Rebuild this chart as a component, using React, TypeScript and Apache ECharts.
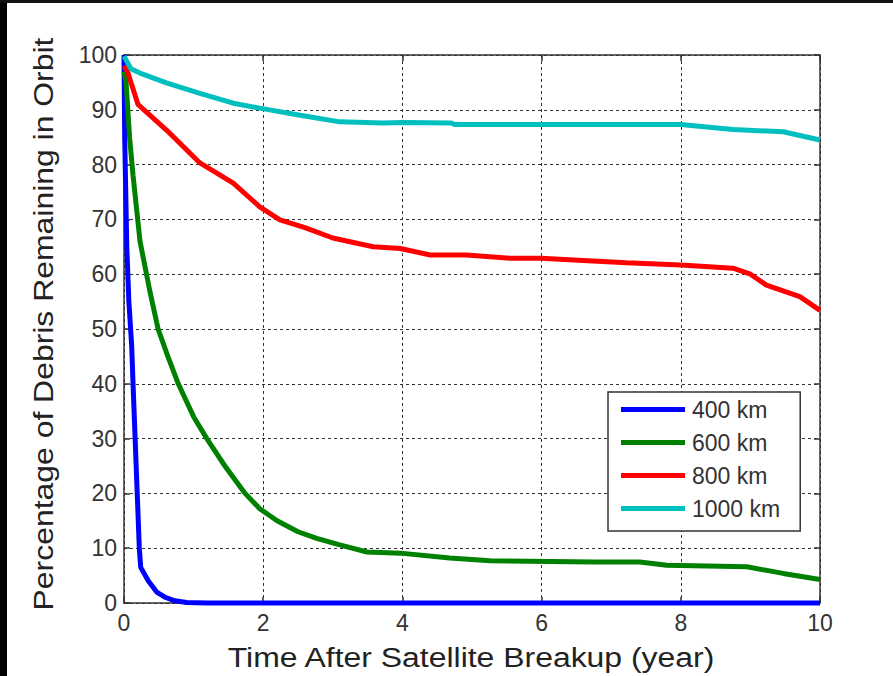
import React, { useEffect, useRef } from "react";
import * as echarts from "echarts";

const seriesNames = ["400 km", "600 km", "800 km", "1000 km"];
const seriesColors = ["#0000FF", "#008000", "#FF0000", "#00BFBF"];

const data400: [number, number][] = [
  [0, 100], [0.01, 85], [0.04, 65], [0.07, 55], [0.11, 47], [0.13, 40],
  [0.16, 30], [0.19, 20], [0.22, 10], [0.24, 6.5], [0.35, 4], [0.47, 2],
  [0.6, 1], [0.73, 0.4], [0.9, 0.1], [1.2, 0], [10, 0],
];
const data600: [number, number][] = [
  [0, 97], [0.03, 95], [0.08, 85], [0.13, 78], [0.23, 66], [0.37, 57],
  [0.49, 50], [0.63, 45], [0.78, 40], [1, 34], [1.19, 30], [1.45, 25],
  [1.74, 20], [1.95, 17.2], [2.2, 15], [2.5, 13], [2.77, 11.8], [3.1, 10.6],
  [3.49, 9.3], [3.97, 9.1], [4.68, 8.2], [5.26, 7.7], [6.74, 7.5], [7.41, 7.5],
  [7.8, 6.9], [8.95, 6.6], [9.47, 5.4], [10, 4.3],
];
const data800: [number, number][] = [
  [0, 98], [0.05, 97], [0.2, 91], [0.61, 86.3], [1.09, 80.3], [1.57, 76.6],
  [1.95, 72.3], [2.24, 69.9], [2.6, 68.5], [3.0, 66.6], [3.58, 65], [3.97, 64.7],
  [4.4, 63.5], [4.92, 63.5], [5.55, 62.9], [6, 62.9], [6.46, 62.6], [7.22, 62.1],
  [8, 61.7], [8.75, 61.1], [9.0, 60], [9.23, 58], [9.71, 55.9], [10, 53.4],
];
const data1000: [number, number][] = [
  [0, 99.8], [0.1, 97.5], [0.23, 96.7], [0.61, 94.9], [1.09, 93], [1.57, 91.2],
  [1.95, 90.3], [2.53, 89], [3.1, 87.8], [3.72, 87.6], [4.0, 87.7], [4.7, 87.6],
  [4.75, 87.3], [8, 87.3], [8.75, 86.4], [9.47, 86], [10, 84.5],
];
const allData = [data400, data600, data800, data1000];

const xTitle = "Time After Satellite Breakup (year)";
const yTitle = "Percentage of Debris Remaining in Orbit";

const FONT = "Liberation Sans, Arial, Helvetica, sans-serif";

export default function App() {
  const ref = useRef<HTMLDivElement>(null);
  useEffect(() => {
    if (!ref.current) return;
    const chart = echarts.init(ref.current, undefined, { renderer: "svg" });
    const axisLineStyle = { color: "#333", width: 1.5 };
    const gridLine = { show: true, lineStyle: { color: "#333", type: [3, 3], width: 1 } };
    const label = { color: "#333", fontSize: 23, fontFamily: FONT };
    chart.setOption({
      animation: false,
      backgroundColor: "#ffffff",
      grid: { left: 124, right: 73, top: 55, bottom: 73, containLabel: false },
      xAxis: [
        {
          type: "value", min: 0, max: 10, interval: 2, position: "bottom",
          axisLine: { show: true, onZero: false, lineStyle: axisLineStyle },
          axisTick: { show: true, inside: true, length: 6, lineStyle: axisLineStyle },
          axisLabel: { ...label, margin: 8 },
          splitLine: gridLine,
        },
        {
          type: "value", min: 0, max: 10, interval: 2, position: "top",
          axisLine: { show: true, onZero: false, lineStyle: axisLineStyle },
          axisTick: { show: true, inside: true, length: 6, lineStyle: axisLineStyle },
          axisLabel: { show: false },
          splitLine: { show: false },
        },
      ],
      yAxis: [
        {
          type: "value", min: 0, max: 100, interval: 10, position: "left",
          axisLine: { show: true, onZero: false, lineStyle: axisLineStyle },
          axisTick: { show: true, inside: true, length: 6, lineStyle: axisLineStyle },
          axisLabel: { ...label, margin: 7 },
          splitLine: gridLine,
        },
        {
          type: "value", min: 0, max: 100, interval: 10, position: "right",
          axisLine: { show: true, onZero: false, lineStyle: axisLineStyle },
          axisTick: { show: true, inside: true, length: 6, lineStyle: axisLineStyle },
          axisLabel: { show: false },
          splitLine: { show: false },
        },
      ],
      legend: {
        orient: "vertical",
        left: 608,
        top: 392,
        padding: [6, 20, 11, 13],
        itemGap: 10,
        itemWidth: 64,
        itemHeight: 5,
        icon: "rect",
        borderColor: "#333",
        borderWidth: 1.5,
        backgroundColor: "#ffffff",
        textStyle: { color: "#333", fontSize: 23, fontFamily: FONT, lineHeight: 23, padding: [0, 0, 0, 2] },
        data: seriesNames,
      },
      series: seriesNames.map((name, i) => ({
        name,
        type: "line",
        data: allData[i],
        xAxisIndex: 0,
        yAxisIndex: 0,
        symbol: "none",
        showSymbol: false,
        clip: false,
        lineStyle: { color: seriesColors[i], width: 5 },
        itemStyle: { color: seriesColors[i] },
        z: 2 + i,
      })),
      graphic: [
        { type: "rect", shape: { x: 0, y: 0, width: 7, height: 676 }, style: { fill: "#000" }, z: 100 },
        { type: "rect", shape: { x: 0, y: 0, width: 893, height: 3 }, style: { fill: "#111" }, z: 100 },
        {
          type: "text", x: 471, y: 657, scaleX: 1.14, z: 100,
          style: {
            text: xTitle, font: `28px ${FONT}`, fill: "#222",
            textAlign: "center", textVerticalAlign: "middle", align: "center", verticalAlign: "middle",
          },
        },
        {
          type: "text", x: 43, y: 324, rotation: Math.PI / 2, scaleX: 1.14, z: 100,
          style: {
            text: yTitle, font: `28px ${FONT}`, fill: "#222",
            textAlign: "center", textVerticalAlign: "middle", align: "center", verticalAlign: "middle",
          },
        },
      ],
    });
    return () => chart.dispose();
  }, []);
  return (
    <div
      ref={ref}
      style={{ position: "absolute", left: 0, top: 0, width: 893, height: 676, background: "#fff" }}
    />
  );
}
